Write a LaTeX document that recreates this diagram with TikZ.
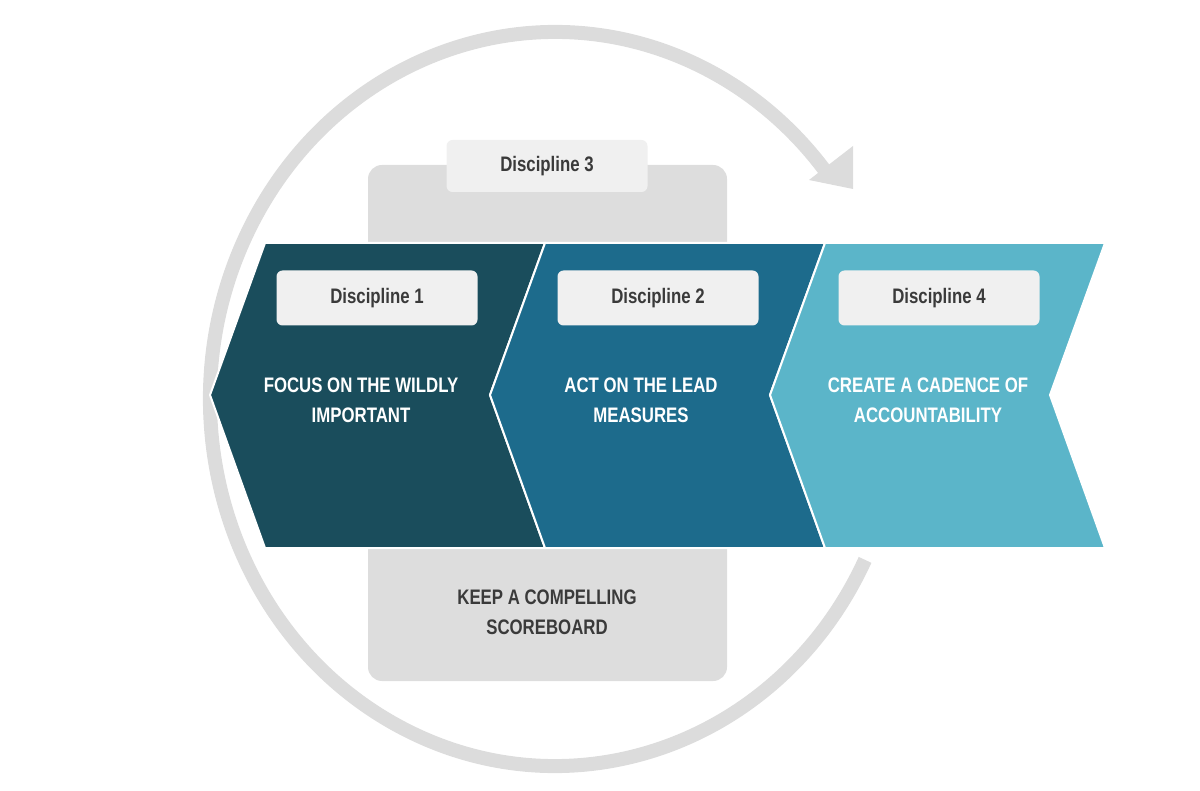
\documentclass[tikz,border=0pt]{standalone}
\usepackage{fontspec}
\setmainfont{Liberation Sans}[FakeStretch=0.8]
\begin{document}
\begin{tikzpicture}[x=1pt,y=-1pt,
  ring/.style={draw=ringgray,line width=14pt},
  chev/.style={draw=white,line width=2pt},
  lab/.style={fill=boxgray,rounded corners=6pt,minimum width=201pt,minimum height=55pt,text=labtext,font=\bfseries\fontsize{21}{24}\selectfont},
  body/.style={text=white,align=center,font=\bfseries\fontsize{21}{30}\selectfont},
  dark/.style={text=labtext,align=center,font=\bfseries\fontsize{21}{30}\selectfont}]
\definecolor{ringgray}{HTML}{DCDCDC}
\definecolor{boxgray}{HTML}{F0F0F0}
\definecolor{labtext}{HTML}{3A3A3A}
\definecolor{panel}{HTML}{DDDDDD}
\definecolor{c1}{HTML}{1A4D5C}
\definecolor{c2}{HTML}{1D6B8C}
\definecolor{c3}{HTML}{5BB5C9}
\useasboundingbox (0,0) rectangle (1200,791);
% ring
\draw[ring] (555,399) ++(26:345 and 367) arc[start angle=26,end angle=322.5,x radius=345,y radius=367];
\fill[ringgray] (809,180) -- (853,146) -- (853,189) -- cycle;
% panel
\fill[panel,rounded corners=14pt] (368,165) rectangle (727,681);
\node[lab,minimum height=52pt] (d3) at (547,166) {Discipline 3};
% chevrons
\filldraw[chev,fill=c1] (265,243) -- (545,243) -- (490,395) -- (545,548) -- (265,548) -- (210,395) -- cycle;
\filldraw[chev,fill=c2] (545,243) -- (825,243) -- (770,395) -- (825,548) -- (545,548) -- (490,395) -- cycle;
\filldraw[chev,fill=c3] (825,243) -- (1105,243) -- (1050,395) -- (1105,548) -- (825,548) -- (770,395) -- cycle;
\node[lab] (d1) at (377,298) {Discipline 1};
\node[lab] (d2) at (658,298) {Discipline 2};
\node[lab] (d4) at (939,298) {Discipline 4};
\node[body] (t1) at (361,400) {FOCUS ON THE WILDLY\\IMPORTANT};
\node[body] (t2) at (641,400) {ACT ON THE LEAD\\MEASURES};
\node[body] (t4) at (928,400) {CREATE A CADENCE OF\\ACCOUNTABILITY};
\node[dark] (t3) at (547,612) {KEEP A COMPELLING\\SCOREBOARD};
\end{tikzpicture}
\end{document}
